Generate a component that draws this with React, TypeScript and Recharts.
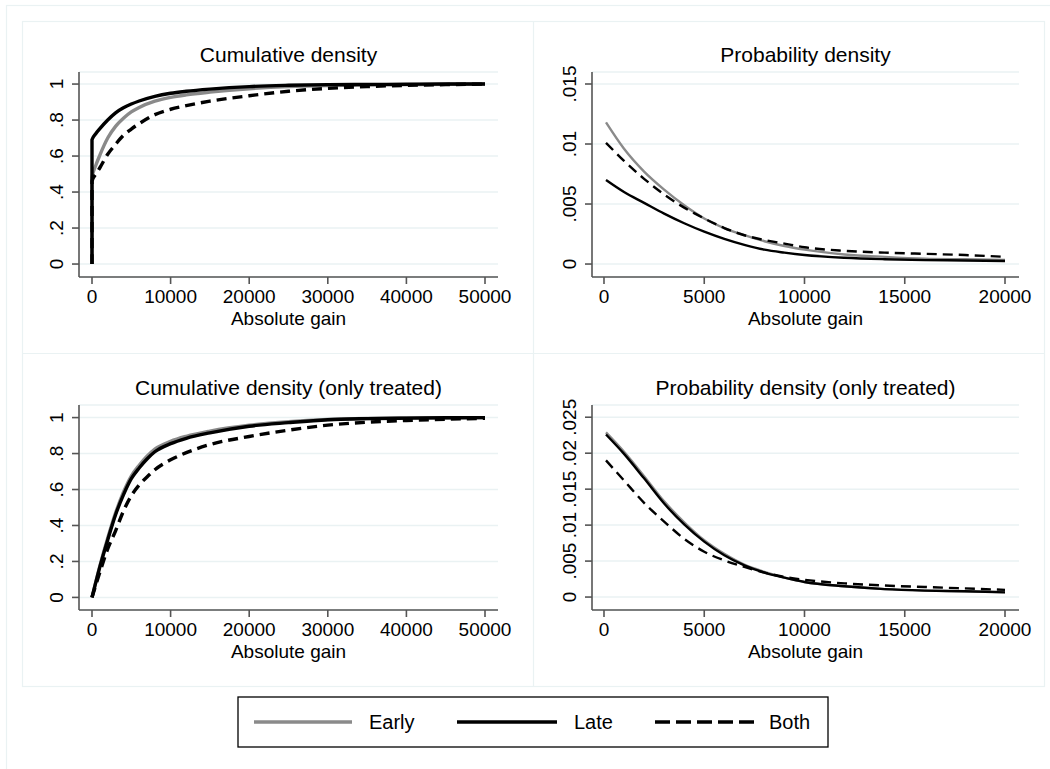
import { LineChart, Line, XAxis, YAxis, CartesianGrid } from "recharts";

const FONT = '"Liberation Sans", Arial, Helvetica, sans-serif';
const GRID = "#eaf2f3";
const AXIS = "#555555";
const EARLY = "#8a8a8a";
const DARK = "#000000";

// Cumulative density, all
const cdfX = [0, 0, 500, 1000, 2000, 3000, 4000, 5000, 6000, 8000, 10000, 12000, 15000, 20000, 25000, 30000, 35000, 40000, 45000, 50000];
const cdfEarly = [0, 0.48, 0.55, 0.605, 0.7, 0.765, 0.81, 0.845, 0.87, 0.905, 0.926, 0.94, 0.955, 0.974, 0.986, 0.992, 0.995, 0.997, 0.999, 1.0];
const cdfLate = [0, 0.69, 0.725, 0.752, 0.8, 0.84, 0.868, 0.889, 0.906, 0.932, 0.949, 0.96, 0.972, 0.986, 0.993, 0.997, 0.998, 0.999, 1.0, 1.0];
const cdfBoth = [0, 0.46, 0.5, 0.535, 0.61, 0.665, 0.715, 0.75, 0.78, 0.83, 0.86, 0.88, 0.905, 0.935, 0.96, 0.976, 0.986, 0.993, 0.997, 1.0];

// Probability density, all
const pdfX = [100, 1000, 2000, 3000, 4000, 5000, 6000, 7000, 8000, 9000, 10000, 12000, 14000, 16000, 18000, 20000];
const pdfEarly = [0.0118, 0.0096, 0.0077, 0.0062, 0.0049, 0.0038, 0.003, 0.0024, 0.0019, 0.0015, 0.0012, 0.0008, 0.0006, 0.00045, 0.0004, 0.00035];
const pdfLate = [0.007, 0.006, 0.0051, 0.0042, 0.0034, 0.0027, 0.0021, 0.0016, 0.0012, 0.00095, 0.00075, 0.00052, 0.0004, 0.00033, 0.0003, 0.00025];
const pdfBoth = [0.0101, 0.0086, 0.0071, 0.0058, 0.0047, 0.0038, 0.003, 0.0024, 0.002, 0.0017, 0.0014, 0.0011, 0.00095, 0.00085, 0.00075, 0.0006];

// Cumulative density, only treated
const trX = [0, 1000, 2000, 3000, 4000, 5000, 6000, 7000, 8000, 10000, 12000, 15000, 20000, 25000, 30000, 35000, 40000, 45000, 50000];
const trEarly = [0, 0.175, 0.33, 0.47, 0.585, 0.675, 0.735, 0.785, 0.825, 0.868, 0.896, 0.925, 0.958, 0.977, 0.989, 0.995, 0.998, 0.999, 1.0];
const trLate = [0, 0.17, 0.32, 0.46, 0.57, 0.66, 0.72, 0.77, 0.81, 0.855, 0.885, 0.915, 0.952, 0.972, 0.988, 0.994, 0.997, 0.999, 1.0];
const trBoth = [0, 0.14, 0.27, 0.37, 0.48, 0.565, 0.625, 0.67, 0.71, 0.765, 0.805, 0.85, 0.895, 0.93, 0.958, 0.974, 0.984, 0.991, 0.996];

// Probability density, only treated
const ptX = [100, 1000, 2000, 3000, 4000, 5000, 6000, 7000, 8000, 9000, 10000, 12000, 14000, 16000, 18000, 20000];
const ptEarly = [0.0229, 0.0202, 0.0168, 0.0133, 0.0104, 0.0079, 0.006, 0.0045, 0.0035, 0.0027, 0.0021, 0.0015, 0.0011, 0.0009, 0.0008, 0.0007];
const ptLate = [0.0226, 0.0199, 0.0165, 0.013, 0.0101, 0.0077, 0.0058, 0.0044, 0.0034, 0.0027, 0.0021, 0.0015, 0.0011, 0.0009, 0.0008, 0.00065];
const ptBoth = [0.019, 0.0162, 0.0131, 0.0105, 0.0081, 0.0063, 0.0051, 0.0042, 0.0034, 0.0028, 0.0024, 0.0019, 0.0016, 0.0014, 0.0012, 0.001];

const cdfTicksX = [0, 10000, 20000, 30000, 40000, 50000];
const pdfTicksX = [0, 5000, 10000, 15000, 20000];
const cdfTicksY = [0, 0.2, 0.4, 0.6, 0.8, 1];
const pdfTicksY = [0, 0.005, 0.01, 0.015];
const ptTicksY = [0, 0.005, 0.01, 0.015, 0.02, 0.025];

const rows = (xs: number[], early: number[], late: number[], both: number[]) =>
    xs.map((x, i) => ({ x, early: early[i], late: late[i], both: both[i] }));

const fmt = (v: number) => (v === 0 || v === 1 ? String(v) : String(v).replace(/^0\./, "."));

// stata style: y labels turned to read upwards
const YTick = (props: any) => {
    const { x, y, payload } = props;
    return (
        <text x={x} y={y} transform={`rotate(-90 ${x} ${y})`} textAnchor="middle" fontSize={19} fill="#000">
            {fmt(payload.value)}
        </text>
    );
};

type PanelProps = {
    left: number;
    top: number;
    height: number;
    data: any[];
    xDomain: number[];
    xTicks: number[];
    yDomain: number[];
    yTicks: number[];
    lineWidth: number;
    margin: { top: number; right: number; bottom: number; left: number };
};

const Panel = ({ left, top, height, data, xDomain, xTicks, yDomain, yTicks, lineWidth, margin }: PanelProps) => (
    <div style={{ position: "absolute", left, top }}>
        <LineChart width={511} height={height} data={data} margin={margin}>
            <CartesianGrid vertical={false} stroke={GRID} strokeWidth={1.5} />
            <XAxis
                type="number"
                dataKey="x"
                domain={xDomain}
                ticks={xTicks}
                allowDataOverflow
                interval={0}
                height={60}
                tickSize={7}
                tickMargin={6}
                axisLine={{ stroke: AXIS, strokeWidth: 1.6 }}
                tickLine={{ stroke: AXIS, strokeWidth: 1.6 }}
                tick={{ fill: "#000", fontSize: 19 }}
                label={{ value: "Absolute gain", position: "insideBottom", offset: 12, fill: "#000", fontSize: 19 }}
            />
            <YAxis
                type="number"
                domain={yDomain}
                ticks={yTicks}
                allowDataOverflow
                interval={0}
                width={40}
                tickSize={7}
                tickMargin={9}
                axisLine={{ stroke: AXIS, strokeWidth: 1.6 }}
                tickLine={{ stroke: AXIS, strokeWidth: 1.6 }}
                tick={<YTick />}
            />
            <Line type="monotone" dataKey="early" stroke={EARLY} strokeWidth={lineWidth} dot={false} isAnimationActive={false} />
            <Line type="monotone" dataKey="late" stroke={DARK} strokeWidth={lineWidth} dot={false} isAnimationActive={false} />
            <Line type="monotone" dataKey="both" stroke={DARK} strokeWidth={lineWidth} strokeDasharray="10 6" dot={false} isAnimationActive={false} />
        </LineChart>
    </div>
);

const leftMargin = { top: 50, right: 36, bottom: 17, left: 16 };
const rightMargin = { top: 50, right: 26, bottom: 17, left: 18 };
const leftMarginB = { top: 51, right: 36, bottom: 17, left: 16 };
const rightMarginB = { top: 51, right: 26, bottom: 17, left: 18 };

export default function App() {
    return (
        <div style={{ position: "absolute", left: 0, top: 0, width: 1050, height: 769, background: "#fff", fontFamily: FONT }}>
            <svg width={1050} height={769} style={{ position: "absolute", left: 0, top: 0 }}>
                <rect x={6.5} y={5.5} width={1200} height={1000} fill="none" stroke={GRID} strokeWidth={1.2} />
                <rect x={22.5} y={21.5} width={1022} height={665} fill="none" stroke={GRID} strokeWidth={1.2} />
                <line x1={533.5} x2={533.5} y1={22} y2={687} stroke={GRID} strokeWidth={1.2} />
                <line x1={23} x2={1045} y1={353.5} y2={353.5} stroke={GRID} strokeWidth={1.2} />
                <g fontSize={21} fill="#000" textAnchor="middle">
                    <text x={288.5} y={61.5}>Cumulative density</text>
                    <text x={805.5} y={61.5}>Probability density</text>
                    <text x={288.5} y={395}>Cumulative density (only treated)</text>
                    <text x={805.5} y={395}>Probability density (only treated)</text>
                </g>
                <rect x={238} y={697} width={590} height={50} fill="none" stroke="#000" strokeWidth={1.3} />
                <line x1={254} x2={352} y1={722} y2={722} stroke={EARLY} strokeWidth={3.5} />
                <line x1={457} x2={557} y1={722} y2={722} stroke={DARK} strokeWidth={3.5} />
                <line x1={655} x2={754} y1={722} y2={722} stroke={DARK} strokeWidth={3.5} strokeDasharray="15 6" />
                <g fontSize={20} fill="#000">
                    <text x={369} y={729}>Early</text>
                    <text x={574} y={729}>Late</text>
                    <text x={769} y={729}>Both</text>
                </g>
            </svg>
            <Panel left={23} top={22} height={332} data={rows(cdfX, cdfEarly, cdfLate, cdfBoth)}
                xDomain={[-1654, 51654]} xTicks={cdfTicksX} yDomain={[-0.072, 1.067]} yTicks={cdfTicksY}
                lineWidth={3.4} margin={leftMargin} />
            <Panel left={534} top={22} height={332} data={rows(pdfX, pdfEarly, pdfLate, pdfBoth)}
                xDomain={[-598, 20698]} xTicks={pdfTicksX} yDomain={[-0.00108, 0.016]} yTicks={pdfTicksY}
                lineWidth={2.4} margin={rightMargin} />
            <Panel left={23} top={354} height={333} data={rows(trX, trEarly, trLate, trBoth)}
                xDomain={[-1654, 51654]} xTicks={cdfTicksX} yDomain={[-0.07, 1.07]} yTicks={cdfTicksY}
                lineWidth={3.4} margin={leftMarginB} />
            <Panel left={534} top={354} height={333} data={rows(ptX, ptEarly, ptLate, ptBoth)}
                xDomain={[-598, 20698]} xTicks={pdfTicksX} yDomain={[-0.0018, 0.0267]} yTicks={ptTicksY}
                lineWidth={2.4} margin={rightMarginB} />
        </div>
    );
}
